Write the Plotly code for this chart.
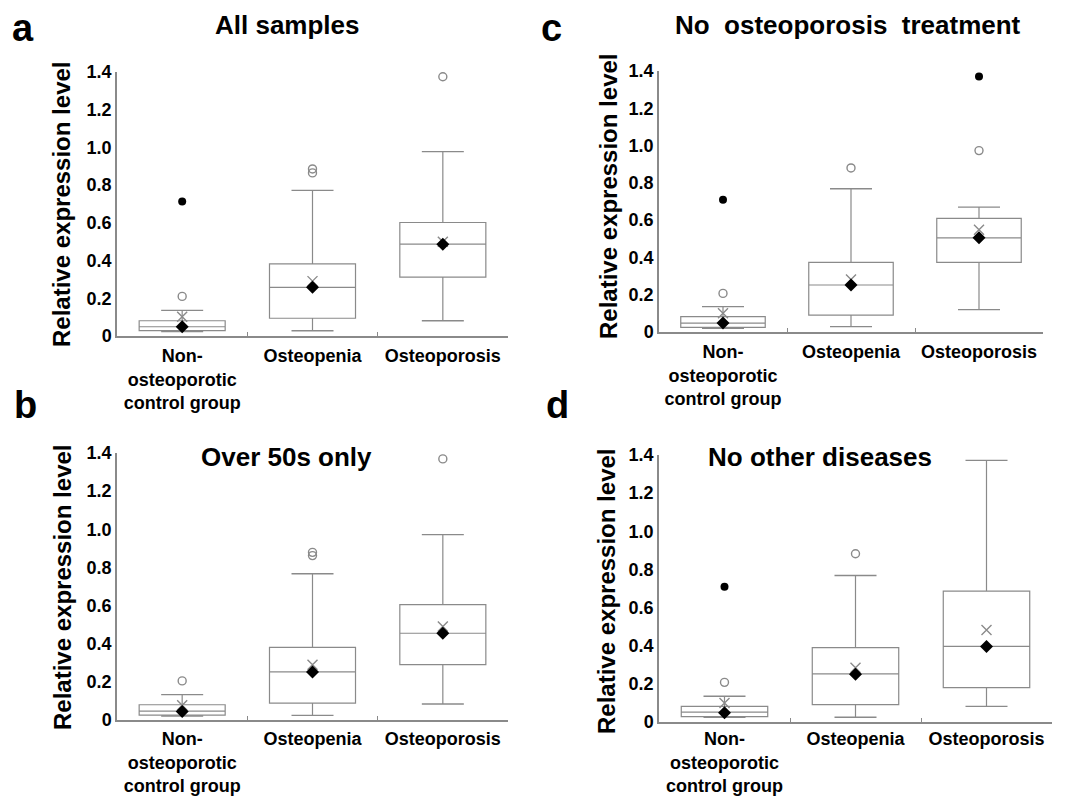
import plotly.graph_objects as go

categories = ["Non-<br>osteoporotic<br>control group", "Osteopenia", "Osteoporosis"]
ytick_vals = [0, 0.2, 0.4, 0.6, 0.8, 1.0, 1.2, 1.4]
ytick_text = ["0", "0.2", "0.4", "0.6", "0.8", "1.0", "1.2", "1.4"]

# Panel a: All samples
a_q1 = [0.028, 0.094, 0.312]
a_median = [0.049, 0.258, 0.487]
a_q3 = [0.081, 0.383, 0.602]
a_low = [0.023, 0.028, 0.081]
a_high = [0.136, 0.772, 0.978]
a_mean = [0.102, 0.291, 0.500]
a_diamond = [0.049, 0.258, 0.487]
a_open_out = [[0.21], [0.865, 0.886], [1.375]]
a_black_out = [[0.713], [], []]

# Panel b: Over 50s only
b_q1 = [0.026, 0.089, 0.290]
b_median = [0.047, 0.252, 0.455]
b_q3 = [0.080, 0.381, 0.605]
b_low = [0.021, 0.024, 0.084]
b_high = [0.133, 0.767, 0.972]
b_mean = [0.077, 0.290, 0.490]
b_diamond = [0.045, 0.252, 0.455]
b_open_out = [[0.205], [0.862, 0.879], [1.369]]
b_black_out = [[], [], []]

# Panel c: No osteoporosis treatment
c_q1 = [0.025, 0.091, 0.373]
c_median = [0.048, 0.252, 0.505]
c_q3 = [0.082, 0.373, 0.609]
c_low = [0.020, 0.029, 0.120]
c_high = [0.136, 0.768, 0.670]
c_mean = [0.100, 0.282, 0.548]
c_diamond = [0.048, 0.252, 0.505]
c_open_out = [[0.207], [0.880], [0.973]]
c_black_out = [[0.709], [], [1.371]]

# Panel d: No other diseases
d_q1 = [0.028, 0.091, 0.180]
d_median = [0.052, 0.252, 0.397]
d_q3 = [0.082, 0.390, 0.686]
d_low = [0.025, 0.025, 0.082]
d_high = [0.135, 0.768, 1.372]
d_mean = [0.100, 0.284, 0.483]
d_diamond = [0.049, 0.250, 0.396]
d_open_out = [[0.208], [0.882], []]
d_black_out = [[0.709], [], []]

GRAY = "#8a8a8a"
fig = go.Figure()


def add_panel(ax, q1, med, q3, low, high, mean, diamond, open_out, black_out):
    xr, yr = ("x" + ax, "y" + ax)
    fig.add_trace(go.Box(
        x=categories, q1=q1, median=med, q3=q3, lowerfence=low, upperfence=high,
        width=0.66, fillcolor="white", line=dict(color=GRAY, width=1.2),
        boxpoints=False, whiskerwidth=0, xaxis=xr, yaxis=yr, showlegend=False,
        hoverinfo="skip"))
    fig.add_trace(go.Scatter(
        x=categories + categories, y=low + high, mode="markers",
        marker=dict(symbol="line-ew", size=30, line=dict(color=GRAY, width=1.4)),
        xaxis=xr, yaxis=yr, showlegend=False, cliponaxis=False, hoverinfo="skip"))
    ox, oy, bx, by = [], [], [], []
    for c, vals in zip(categories, open_out):
        for v in vals:
            ox.append(c)
            oy.append(v)
    for c, vals in zip(categories, black_out):
        for v in vals:
            bx.append(c)
            by.append(v)
    fig.add_trace(go.Scatter(
        x=ox, y=oy, mode="markers",
        marker=dict(symbol="circle-open", size=8, color=GRAY, line=dict(width=1.4)),
        xaxis=xr, yaxis=yr, showlegend=False, cliponaxis=False, hoverinfo="skip"))
    fig.add_trace(go.Scatter(
        x=bx, y=by, mode="markers",
        marker=dict(symbol="circle", size=8, color="black"),
        xaxis=xr, yaxis=yr, showlegend=False, cliponaxis=False, hoverinfo="skip"))
    fig.add_trace(go.Scatter(
        x=categories, y=mean, mode="markers",
        marker=dict(symbol="x-thin", size=10, line=dict(color=GRAY, width=1.4)),
        xaxis=xr, yaxis=yr, showlegend=False, cliponaxis=False, hoverinfo="skip"))
    fig.add_trace(go.Scatter(
        x=categories, y=diamond, mode="markers",
        marker=dict(symbol="diamond", size=10, color="black"),
        xaxis=xr, yaxis=yr, showlegend=False, cliponaxis=False, hoverinfo="skip"))


add_panel("", a_q1, a_median, a_q3, a_low, a_high, a_mean, a_diamond, a_open_out, a_black_out)
add_panel("2", b_q1, b_median, b_q3, b_low, b_high, b_mean, b_diamond, b_open_out, b_black_out)
add_panel("3", c_q1, c_median, c_q3, c_low, c_high, c_mean, c_diamond, c_open_out, c_black_out)
add_panel("4", d_q1, d_median, d_q3, d_low, d_high, d_mean, d_diamond, d_open_out, d_black_out)

# page body adds an 8px offset; lay the figure out in window pixels minus that
OFF = 8
W, H = 1072 - OFF, 796 - OFF
FONT = "Liberation Sans, Arial, sans-serif"


def px_dom(a, b):
    return [(a - OFF) / W, (b - OFF) / W]


def py_dom(top, bottom):
    return [(H - (bottom - OFF)) / H, (H - (top - OFF)) / H]


panels = {
    "": (px_dom(117, 508), py_dom(72, 336), 3),
    "2": (px_dom(117, 508), py_dom(453, 720), 2),
    "3": (px_dom(659, 1043), py_dom(71, 332), 3),
    "4": (px_dom(659, 1052), py_dom(455, 722), 0),
}

layout = dict(
    width=W, height=H, margin=dict(l=0, r=0, t=0, b=0, autoexpand=False),
    paper_bgcolor="white", plot_bgcolor="white", showlegend=False,
    font=dict(family=FONT, color="black"),
)
for ax, (xd, yd, xstand) in panels.items():
    layout["xaxis" + ax] = dict(
        domain=xd, anchor="y" + ax, type="category", categoryorder="array",
        categoryarray=categories, range=[-0.5, 2.5], showline=True, linecolor=GRAY,
        linewidth=1.5, ticks="inside", ticklen=4, tickcolor=GRAY, tickson="boundaries",
        showgrid=False, zeroline=False, automargin=False, ticklabelstandoff=xstand,
        tickfont=dict(family=FONT, size=18, color="black", weight="bold"))
    layout["yaxis" + ax] = dict(
        domain=yd, anchor="x" + ax, range=[0, 1.4], tickvals=ytick_vals,
        ticktext=ytick_text, showline=True, linecolor=GRAY, linewidth=1.5,
        ticks="", showgrid=False, zeroline=False, automargin=False,
        ticklabelstandoff=0,
        tickfont=dict(family=FONT, size=18, color="black", weight="bold"))
fig.update_layout(**layout)


def ann(text, x, y, size, angle=0):
    fig.add_annotation(text=text, x=(x - OFF) / W, y=(H - (y - OFF)) / H,
                       xref="paper", yref="paper",
                       showarrow=False, xanchor="center", yanchor="middle", textangle=angle,
                       font=dict(family=FONT, size=size, color="black", weight="bold"))


ytitle = "Relative expression level"
ann(ytitle, 62, 204, 24, -90)
ann(ytitle, 62, 587, 24, -90)
ann(ytitle, 608, 196, 24, -90)
ann(ytitle, 606, 591, 24, -90)

ann("All samples", 287, 25, 26)
ann("No\u00a0 osteoporosis\u00a0 treatment", 848, 25, 26)
ann("Over 50s only", 286, 457, 26)
ann("No other diseases", 820, 457, 26)

ann("a", 23, 28, 38)
ann("b", 25, 405, 38)
ann("c", 551, 28, 38)
ann("d", 557, 405, 38)

fig.write_html("out.html")
